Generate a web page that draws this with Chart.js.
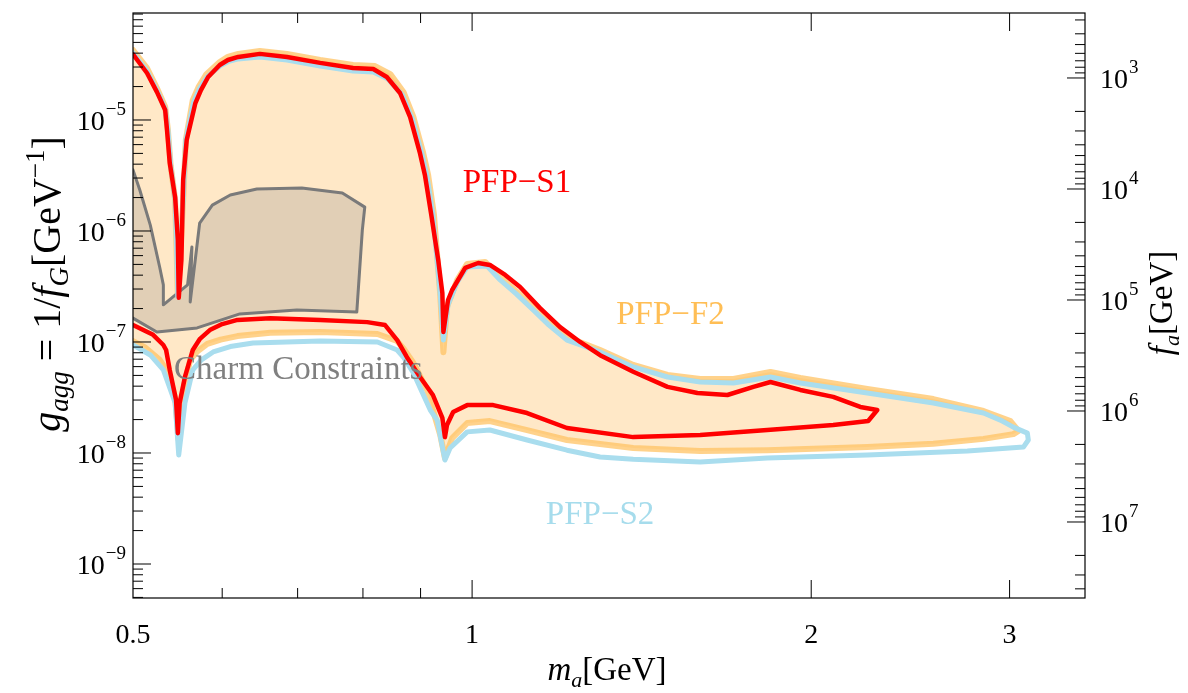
<!DOCTYPE html>
<html lang="en">
<head>
  <meta charset="UTF-8">
  <title>PFP reach for gluon-coupled ALPs</title>
  <script src="https://cdn.jsdelivr.net/npm/chart.js"></script>
  <style>body { margin: 0; background: #fff; }</style>
</head>
<body>
<canvas id="reach" width="1188" height="693"></canvas>

<script>
    // contours as [m_a (GeV), g_agg (1/GeV)], closed loops
    const s1Contour = [
        [0.49, 4.3e-5], [0.5, 3.9e-5], [0.5145, 2.65e-5], [0.525, 1.79e-5], [0.534, 1.23e-5], [0.536, 8.1e-6],
        [0.539, 4.1e-6], [0.545, 2.0e-6], [0.548, 8.3e-7], [0.549, 2.5e-7], [0.552, 5.5e-7], [0.554, 2.9e-6],
        [0.558, 6.6e-6], [0.568, 1.42e-5], [0.5745, 1.86e-5], [0.583, 2.44e-5], [0.597, 3.13e-5], [0.607, 3.47e-5],
        [0.620, 3.7e-5], [0.648, 3.94e-5], [0.685, 3.7e-5], [0.733, 3.27e-5], [0.784, 2.94e-5], [0.817, 2.88e-5],
        [0.840, 2.44e-5], [0.863, 1.75e-5], [0.881, 1.06e-5], [0.899, 5.0e-6], [0.908, 3.2e-6], [0.920, 1.39e-6],
        [0.933, 5.5e-7], [0.941, 2.76e-7], [0.943, 1.23e-7], [0.952, 2.39e-7], [0.960, 2.94e-7], [0.986, 4.65e-7],
        [1.0125, 5.15e-7], [1.037, 4.94e-7], [1.070, 4.02e-7], [1.103, 3.13e-7], [1.149, 2.02e-7], [1.197, 1.36e-7],
        [1.247, 1.0e-7], [1.299, 7.6e-8], [1.390, 5.4e-8], [1.491, 3.94e-8], [1.585, 3.47e-8], [1.685, 3.33e-8],
        [1.777, 3.94e-8], [1.840, 4.36e-8], [1.956, 3.7e-8], [2.092, 3.2e-8], [2.211, 2.6e-8], [2.289, 2.44e-8],
        [2.247, 1.94e-8], [2.092, 1.79e-8], [1.828, 1.61e-8], [1.594, 1.45e-8], [1.390, 1.39e-8], [1.214, 1.68e-8],
        [1.119, 2.29e-8], [1.044, 2.7e-8], [0.990, 2.7e-8], [0.962, 2.34e-8], [0.950, 1.79e-8], [0.946, 1.39e-8],
        [0.941, 2.07e-8], [0.923, 3.33e-8], [0.899, 4.84e-8], [0.875, 7.33e-8], [0.858, 1.04e-7], [0.837, 1.42e-7],
        [0.807, 1.51e-7], [0.733, 1.58e-7], [0.662, 1.64e-7], [0.619, 1.58e-7], [0.600, 1.45e-7], [0.585, 1.28e-7],
        [0.573, 1.06e-7], [0.565, 8.47e-8], [0.556, 4.84e-8], [0.550, 2.82e-8], [0.548, 1.51e-8], [0.546, 3.0e-8],
        [0.539, 5.6e-8], [0.535, 8.47e-8], [0.532, 9.4e-8], [0.521, 1.16e-7], [0.5, 1.42e-7], [0.49, 1.5e-7]
    ];

    const f2Contour = [
        [0.49, 4.7e-5], [0.5, 4.27e-5], [0.5145, 2.94e-5], [0.525, 1.94e-5], [0.534, 1.31e-5], [0.537, 8.1e-6],
        [0.540, 3.9e-6], [0.545, 1.9e-6], [0.548, 2.6e-7], [0.554, 1.9e-6], [0.557, 6.6e-6], [0.565, 1.51e-5],
        [0.572, 2.0e-5], [0.581, 2.59e-5], [0.597, 3.33e-5], [0.607, 3.7e-5], [0.620, 3.94e-5], [0.648, 4.19e-5],
        [0.685, 3.94e-5], [0.733, 3.47e-5], [0.784, 3.13e-5], [0.820, 3.06e-5], [0.846, 2.59e-5], [0.869, 1.79e-5],
        [0.887, 1.06e-5], [0.905, 5.0e-6], [0.914, 3.2e-6], [0.925, 1.4e-6], [0.937, 2.65e-7], [0.943, 8.1e-8],
        [0.950, 2.07e-7], [0.970, 3.62e-7], [0.990, 5.05e-7], [1.027, 5.26e-7], [1.059, 3.86e-7], [1.095, 2.85e-7],
        [1.133, 2.07e-7], [1.170, 1.5e-7], [1.214, 1.11e-7], [1.299, 8.47e-8], [1.390, 6.21e-8], [1.491, 5.05e-8],
        [1.594, 4.65e-8], [1.706, 4.65e-8], [1.840, 5.37e-8], [1.956, 4.74e-8], [2.243, 3.78e-8], [2.567, 3.06e-8],
        [2.844, 2.39e-8], [3.005, 1.94e-8], [3.055, 1.58e-8], [3.023, 1.48e-8], [2.844, 1.34e-8], [2.567, 1.21e-8],
        [2.243, 1.13e-8], [1.828, 1.06e-8], [1.594, 1.04e-8], [1.390, 1.11e-8], [1.214, 1.31e-8], [1.119, 1.61e-8],
        [1.037, 1.94e-8], [0.990, 1.86e-8], [0.960, 1.36e-8], [0.946, 9.0e-9], [0.937, 1.45e-8], [0.912, 3.7e-8],
        [0.887, 6.47e-8], [0.870, 8.6e-8], [0.858, 1.02e-7], [0.824, 1.18e-7], [0.733, 1.23e-7], [0.662, 1.21e-7],
        [0.619, 1.13e-7], [0.598, 1.05e-7], [0.582, 9.6e-8], [0.570, 8.2e-8], [0.562, 6.9e-8], [0.554, 3.7e-8],
        [0.549, 1.31e-8], [0.545, 3.12e-8], [0.537, 5.37e-8], [0.528, 6.9e-8], [0.512, 9.0e-8], [0.5, 1.02e-7],
        [0.49, 1.07e-7]
    ];

    const s2Contour = [
        [0.49, 4.5e-5], [0.5, 4.02e-5], [0.5145, 2.76e-5], [0.525, 1.86e-5], [0.534, 1.26e-5], [0.537, 8.1e-6],
        [0.540, 3.9e-6], [0.545, 1.9e-6], [0.548, 2.54e-7], [0.554, 1.9e-6], [0.557, 6.6e-6], [0.566, 1.45e-5],
        [0.573, 1.93e-5], [0.582, 2.44e-5], [0.597, 3.06e-5], [0.607, 3.35e-5], [0.620, 3.55e-5], [0.648, 3.7e-5],
        [0.685, 3.47e-5], [0.733, 3.06e-5], [0.784, 2.76e-5], [0.817, 2.7e-5], [0.842, 2.34e-5], [0.867, 1.68e-5],
        [0.885, 1.02e-5], [0.903, 4.84e-6], [0.912, 3.1e-6], [0.923, 1.4e-6], [0.937, 2.65e-7], [0.943, 1.04e-7],
        [0.952, 2.16e-7], [0.970, 3.47e-7], [0.990, 4.74e-7], [1.031, 4.84e-7], [1.059, 3.62e-7], [1.095, 2.7e-7],
        [1.133, 1.94e-7], [1.170, 1.42e-7], [1.214, 1.04e-7], [1.299, 8.13e-8], [1.390, 5.96e-8], [1.491, 4.84e-8],
        [1.594, 4.36e-8], [1.706, 4.27e-8], [1.840, 4.84e-8], [1.956, 4.27e-8], [2.243, 3.47e-8], [2.567, 2.82e-8],
        [2.844, 2.29e-8], [2.944, 1.98e-8], [3.023, 1.71e-8], [3.111, 1.51e-8], [3.117, 1.31e-8], [3.086, 1.13e-8],
        [2.752, 1.04e-8], [2.243, 9.6e-9], [1.828, 9.0e-9], [1.594, 8.3e-9], [1.390, 8.8e-9], [1.299, 9.2e-9],
        [1.214, 1.06e-8], [1.119, 1.31e-8], [1.037, 1.61e-8], [0.990, 1.55e-8], [0.956, 1.11e-8], [0.946, 8.65e-9],
        [0.931, 1.98e-8], [0.918, 2.44e-8], [0.900, 3.8e-8], [0.887, 5.26e-8], [0.870, 7.2e-8], [0.858, 8.47e-8],
        [0.824, 1.0e-7], [0.733, 1.02e-7], [0.639, 9.8e-8], [0.610, 9.1e-8], [0.589, 8.13e-8], [0.575, 6.9e-8],
        [0.565, 5.6e-8], [0.556, 2.82e-8], [0.549, 9.6e-9], [0.545, 2.82e-8], [0.532, 5.6e-8], [0.518, 7.64e-8],
        [0.5, 9.4e-8], [0.49, 9.8e-8]
    ];

    const charmContour = [
        [0.49, 3.9e-6], [0.5, 3.55e-6], [0.507, 2.34e-6], [0.518, 1.13e-6], [0.528, 4.74e-7], [0.532, 3.27e-7],
        [0.532, 2.16e-7], [0.559, 3.27e-7], [0.564, 7.18e-7], [0.562, 2.29e-7], [0.573, 1.18e-6], [0.588, 1.71e-6],
        [0.610, 2.11e-6], [0.644, 2.39e-6], [0.706, 2.44e-6], [0.767, 2.2e-6], [0.803, 1.64e-6], [0.799, 1.02e-6],
        [0.790, 1.86e-7], [0.699, 1.94e-7], [0.622, 1.79e-7], [0.570, 1.34e-7], [0.525, 1.23e-7], [0.5, 1.64e-7],
        [0.49, 1.7e-7]
    ];

    const labelText = ['PFP−S1', 'PFP−F2', 'PFP−S2', 'Charm Constraints'];
    const labelMass = [1.096, 1.50, 1.299, 0.701];
    const labelCoupling = [2.7e-6, 1.75e-7, 2.76e-9, 5.6e-8];
    const labelColor = ['#ff0000', '#ffbe55', '#a6dcec', '#808080'];

    const massTickLabels = [0.5, 1, 2, 3];
    const massMajorTicks = [1, 2, 3];
    const massMinorTicks = [0.6, 0.7, 0.8, 0.9];
    const gDecades = [-9, -8, -7, -6, -5];
    const faDecades = [3, 4, 5, 6, 7];

    const M_MIN = 0.5, M_MAX = 3.5;
    const G_MIN = 4.94e-10, G_MAX = 9.2e-5;
    const FA_K = 0.0239;   // f_a = FA_K / g_agg on the right axis

    const SERIF = "'Liberation Serif', 'DejaVu Serif', serif";

    const toXY = arr => arr.map(([x, y]) => ({x, y}));

    function drawRich(ctx, parts, cx, cy, angle, size) {
        const small = Math.round(size * 0.68);
        const fontOf = p => (p.it ? 'italic ' : '') + (p.sub || p.sup ? small : size) + 'px ' + SERIF;
        let total = 0;
        const widths = parts.map(p => { ctx.font = fontOf(p); const w = ctx.measureText(p.t).width; total += w; return w; });
        ctx.save();
        ctx.translate(cx, cy);
        ctx.rotate(angle);
        ctx.textAlign = 'left';
        ctx.textBaseline = 'alphabetic';
        ctx.fillStyle = '#000';
        let x = -total / 2;
        const base = size * 0.34;
        parts.forEach((p, i) => {
            ctx.font = fontOf(p);
            ctx.fillText(p.t, x, base + (p.sub ? size * 0.22 : p.sup ? -size * 0.4 : 0));
            x += widths[i];
        });
        ctx.restore();
    }

    const frame = {
        id: 'frame',
        afterDatasetsDraw(chart) {
            const {ctx, scales: {x, y}} = chart;
            ctx.save();
            ctx.textAlign = 'center';
            ctx.textBaseline = 'middle';
            ctx.font = '33px ' + SERIF;
            labelText.forEach((t, i) => {
                ctx.fillStyle = labelColor[i];
                ctx.fillText(t, x.getPixelForValue(labelMass[i]), y.getPixelForValue(labelCoupling[i]));
            });
            ctx.restore();
        },
        afterDraw(chart) {
            const {ctx, chartArea: a, scales: {x, y, y2}} = chart;
            ctx.save();
            ctx.strokeStyle = '#000';
            ctx.lineWidth = 1.2;
            ctx.strokeRect(a.left, a.top, a.right - a.left, a.bottom - a.top);

            const line = (x1, y1, x2, y2) => { ctx.beginPath(); ctx.moveTo(x1, y1); ctx.lineTo(x2, y2); ctx.stroke(); };
            ctx.lineWidth = 1;
            massMajorTicks.concat(massMinorTicks).forEach(v => {
                const px = x.getPixelForValue(v);
                const len = massMajorTicks.includes(v) ? 18 : 10;
                line(px, a.bottom, px, a.bottom - len);
                line(px, a.top, px, a.top + len);
            });
            for (let d = -10; d <= -4; d++) {
                for (let k = 1; k <= 9; k++) {
                    const v = k * Math.pow(10, d);
                    if (v < G_MIN || v > G_MAX) continue;
                    const py = y.getPixelForValue(v);
                    line(a.left, py, a.left + (k === 1 ? 18 : 10), py);
                }
            }
            for (let d = 2; d <= 7; d++) {
                for (let k = 1; k <= 9; k++) {
                    const v = k * Math.pow(10, d);
                    if (v < y2.min || v > y2.max) continue;
                    const py = y2.getPixelForValue(v);
                    line(a.right, py, a.right - (k === 1 ? 18 : 10), py);
                }
            }

            // power-of-ten tick labels
            ctx.fillStyle = '#000';
            ctx.textBaseline = 'alphabetic';
            ctx.textAlign = 'left';
            const sup = d => (d < 0 ? '−' : '') + Math.abs(d);
            gDecades.forEach(d => {
                const py = y.getPixelForValue(Math.pow(10, d));
                ctx.font = '19px ' + SERIF;
                const ws = ctx.measureText(sup(d)).width;
                ctx.font = '28px ' + SERIF;
                const wb = ctx.measureText('10').width;
                const x0 = a.left - 8 - ws - wb;
                ctx.fillText('10', x0, py + 10);
                ctx.font = '19px ' + SERIF;
                ctx.fillText(sup(d), x0 + wb + 1, py - 5);
            });
            faDecades.forEach(d => {
                const py = y2.getPixelForValue(Math.pow(10, d));
                ctx.font = '28px ' + SERIF;
                const wb = ctx.measureText('10').width;
                const x0 = a.right + 15;
                ctx.fillText('10', x0, py + 10);
                ctx.font = '19px ' + SERIF;
                ctx.fillText(sup(d), x0 + wb + 1, py - 5);
            });

            drawRich(ctx, [
                {t: 'g', it: true}, {t: 'agg', it: true, sub: true}, {t: ' = 1/'}, {t: 'f', it: true},
                {t: 'G', it: true, sub: true}, {t: '[GeV'}, {t: '−1', sup: true}, {t: ']'}
            ], 46, 284, -Math.PI / 2, 40);
            drawRich(ctx, [{t: 'f', it: true}, {t: 'a', it: true, sub: true}, {t: '[GeV]'}], 1161, 303, -Math.PI / 2, 33);
            drawRich(ctx, [{t: 'm', it: true}, {t: 'a', it: true, sub: true}, {t: '[GeV]'}], 607, 669, 0, 33);
            ctx.restore();
        }
    };

    const hiddenGrid = {display: false, drawTicks: false};

    new Chart(document.getElementById('reach'), {
        type: 'line',
        data: {
            datasets: [
                {label: 'PFP-S1', data: toXY(s1Contour), borderColor: '#ff0000', borderWidth: 4.5, fill: false, clip: 0},
                {label: 'PFP-S2', data: toXY(s2Contour), borderColor: '#a9ddee', borderWidth: 5, fill: false, clip: 0},
                {label: 'Charm Constraints', data: toXY(charmContour), borderColor: '#7a7a7a', borderWidth: 3,
                    backgroundColor: 'rgba(120,120,120,0.22)', fill: 'shape', clip: 0},
                {label: 'PFP-F2', data: toXY(f2Contour), borderColor: 'rgba(255,195,100,0.75)', borderWidth: 6,
                    backgroundColor: 'rgba(255,205,130,0.45)', fill: 'shape', clip: 0}
            ]
        },
        options: {
            responsive: false,
            animation: false,
            devicePixelRatio: 1,
            layout: {padding: {top: 13}},
            elements: {
                point: {radius: 0, hoverRadius: 0},
                line: {tension: 0, borderJoinStyle: 'round', borderCapStyle: 'round'}
            },
            plugins: {legend: {display: false}, tooltip: {enabled: false}},
            scales: {
                x: {
                    type: 'logarithmic', min: M_MIN, max: M_MAX,
                    grid: hiddenGrid, border: {display: false},
                    afterBuildTicks: s => { s.ticks = massTickLabels.map(v => ({value: v})); },
                    afterFit: s => { s.height = 95; },
                    ticks: {
                        autoSkip: false, maxRotation: 0, padding: 21, color: '#000',
                        font: {family: SERIF, size: 28},
                        callback: v => String(v)
                    }
                },
                y: {
                    type: 'logarithmic', min: G_MIN, max: G_MAX,
                    grid: hiddenGrid, border: {display: false}, ticks: {display: false},
                    afterFit: s => { s.width = 133; }
                },
                y2: {
                    type: 'logarithmic', position: 'right', reverse: true,
                    min: FA_K / G_MAX, max: FA_K / G_MIN,
                    grid: hiddenGrid, border: {display: false}, ticks: {display: false},
                    afterFit: s => { s.width = 103; }
                }
            }
        },
        plugins: [frame]
    });
</script>
</body>
</html>
